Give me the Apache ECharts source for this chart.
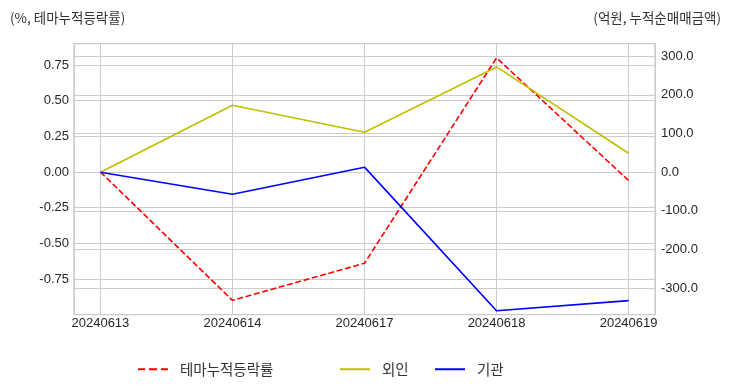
<!DOCTYPE html>
<html><head><meta charset="utf-8">
<script src="https://cdn.jsdelivr.net/npm/echarts@6/dist/echarts.min.js"></script>
<style>html,body{margin:0;padding:0;background:#fff}#c{width:732px;height:392px}</style>
</head><body><div id="c"></div>
<script>
const dates = ['20240613','20240614','20240617','20240618','20240619'];
const themeRate = [0, -0.90, -0.64, 0.80, -0.06];
const foreign = [0, 173, 103, 272, 49];
const institution = [0, -57, 13, -358, -332];
const leftTitle = '(%, 테마누적등락률)';
const rightTitle = '(억원, 누적순매매금액)';
const names = ['테마누적등락률', '외인', '기관'];

const toPts = arr => arr.map((v, i) => [i, v]);
const numFont = 'Liberation Sans, Arial, sans-serif';
const krFont = 'Noto Sans CJK KR, sans-serif';
const gridColor = '#cccccc';
const dashIcon = 'path://M0,0h7v2h-7z M11,0h8v2h-8z M23,0h7v2h-7z';
const solidIcon = 'path://M0,0h30v2h-30z';
const legendText = {fontFamily: krFont, fontSize: 14.5, color: '#333', padding: [0, 0, 0, 7]};

const chart = echarts.init(document.getElementById('c'), null, {renderer: 'canvas'});
chart.setOption({
  animation: false,
  backgroundColor: '#ffffff',
  title: [
    {text: leftTitle, left: 5, top: 6, textStyle: {fontFamily: krFont, fontSize: 13.5, fontWeight: 'normal', color: '#333'}},
    {text: rightTitle, right: 6, top: 6, textStyle: {fontFamily: krFont, fontSize: 13.5, fontWeight: 'normal', color: '#333'}}
  ],
  grid: {left: 74, right: 77, top: 43.6, bottom: 77.4, show: true, borderColor: gridColor, borderWidth: 1.3, containLabel: false},
  legend: [
    {data: [{name: names[0], icon: dashIcon}], left: 138, top: 362, padding: 0, itemWidth: 30, itemHeight: 2, textStyle: legendText},
    {data: [{name: names[1], icon: solidIcon}], left: 340, top: 362, padding: 0, itemWidth: 30, itemHeight: 2, textStyle: legendText},
    {data: [{name: names[2], icon: solidIcon}], left: 435, top: 362, padding: 0, itemWidth: 30, itemHeight: 2, textStyle: legendText}
  ],
  xAxis: {
    type: 'value', min: -0.2, max: 4.2, splitNumber: 4, minInterval: 1,
    axisLine: {show: false}, axisTick: {show: false},
    axisLabel: {margin: 2, fontFamily: numFont, fontSize: 13, color: '#262626', showMinLabel: false, showMaxLabel: false,
      formatter: v => (Math.abs(v - Math.round(v)) < 1e-6 && dates[Math.round(v)] !== undefined) ? dates[Math.round(v)] : ''},
    splitLine: {show: true, lineStyle: {color: gridColor, width: 1}}
  },
  yAxis: [
    {type: 'value', min: -1.0, max: 0.9, interval: 0.25, position: 'left',
      axisLine: {show: false}, axisTick: {show: false},
      axisLabel: {margin: 5, fontFamily: numFont, fontSize: 13, color: '#262626', showMinLabel: false, showMaxLabel: false,
        formatter: v => (Math.abs(v * 4 - Math.round(v * 4)) < 1e-6 && v > -0.99 && v < 0.89) ? v.toFixed(2) : ''},
      splitLine: {show: true, lineStyle: {color: gridColor, width: 1}}},
    {type: 'value', min: -368, max: 332.3, splitNumber: 5, position: 'right',
      axisLine: {show: false}, axisTick: {show: false},
      axisLabel: {margin: 6, fontFamily: numFont, fontSize: 13, color: '#262626', showMinLabel: false, showMaxLabel: false,
        formatter: v => (Math.abs(v / 100 - Math.round(v / 100)) < 1e-6) ? v.toFixed(1) : ''},
      splitLine: {show: true, lineStyle: {color: gridColor, width: 1}}}
  ],
  series: [
    {name: names[0], type: 'line', yAxisIndex: 0, data: toPts(themeRate), symbol: 'none',
      lineStyle: {color: '#ff0000', width: 1.6, type: [6, 2.6]}, itemStyle: {color: '#ff0000'}},
    {name: names[1], type: 'line', yAxisIndex: 1, data: toPts(foreign), symbol: 'none',
      lineStyle: {color: '#bfbf00', width: 1.6}, itemStyle: {color: '#bfbf00'}},
    {name: names[2], type: 'line', yAxisIndex: 1, data: toPts(institution), symbol: 'none',
      lineStyle: {color: '#0000ff', width: 1.6}, itemStyle: {color: '#0000ff'}}
  ]
});
</script></body></html>
